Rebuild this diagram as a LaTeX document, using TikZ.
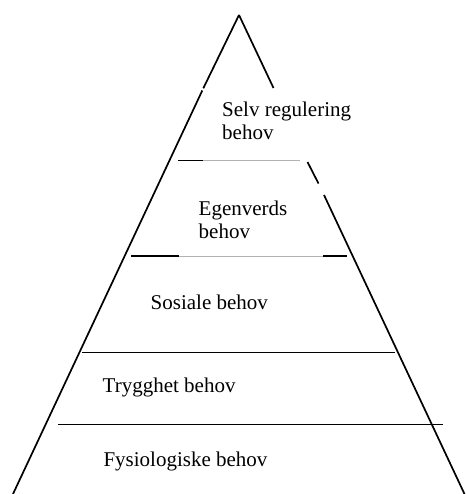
\documentclass[tikz,border=0pt]{standalone}
\usepackage{fontspec}
\setmainfont{Liberation Serif}
\begin{document}
\begin{tikzpicture}[x=1pt,y=-1pt,
  edge/.style={line width=1.7pt,black},
  faint/.style={line width=0.8pt,black!30},
  label/.style={anchor=base west,inner sep=0pt,align=left,
    font=\fontsize{21}{22.5}\selectfont}]
\useasboundingbox (0,0) rectangle (465,494);
% sloped sides of the pyramid
\coordinate (apex) at (239,15);
\draw[edge] (apex) -- (203.3,88.3);
\draw[edge] (202.3,90.5) -- (13,494);
\draw[edge] (apex) -- (273.5,88);
\draw[edge] (307.5,162) -- (318.5,183.5);
\draw[edge] (324,195) -- (464.5,494);
% level dividers
\draw[edge] (178,160.5) -- (203,160.5);
\draw[faint] (203,160.5) -- (300,160.5);
\draw[edge] (131,256) -- (179,256);
\draw[faint] (179,256) -- (323,256);
\draw[edge] (323,256) -- (347,256);
\draw[edge] (82,352.5) -- (395,352.5);
\draw[edge] (58,424.5) -- (443,424.5);
% level labels (a two-line label sits on the baseline of its last line)
\node[label] (selv) at (222,139.5) {Selv regulering\\behov};
\node[label] (egen) at (198.5,238) {Egenverds\\behov};
\node[label] (sos) at (150.5,309) {Sosiale behov};
\node[label] (tryg) at (102.5,392.3) {Trygghet behov};
\node[label] (fys) at (103.3,466) {Fysiologiske behov};
\end{tikzpicture}
\end{document}
